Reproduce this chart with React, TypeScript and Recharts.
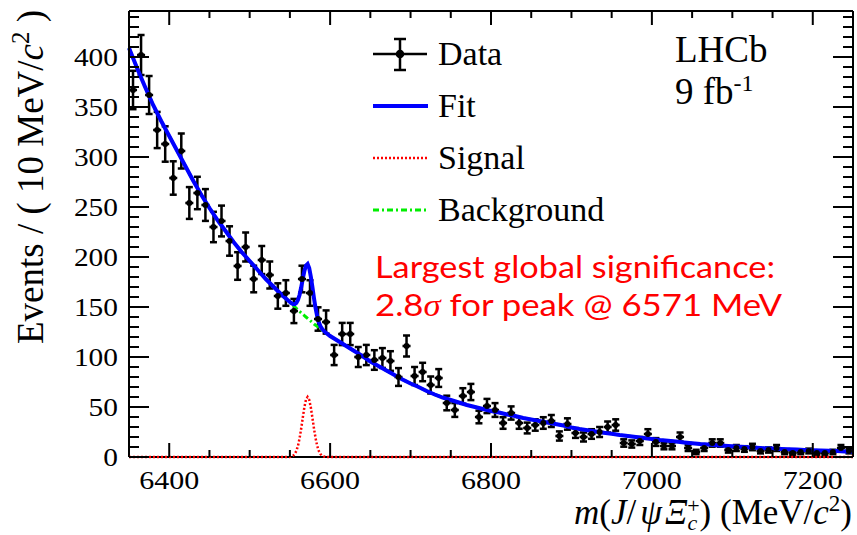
import React from 'react';
import { ComposedChart, Line, Scatter, ErrorBar, XAxis, YAxis, Legend, Customized } from 'recharts';

// ---- data points (10 MeV bins) ----
const binCenters = [
  6355, 6365, 6375, 6385, 6395, 6405, 6415, 6425, 6435, 6445,
  6455, 6465, 6475, 6485, 6495, 6505, 6515, 6525, 6535, 6545,
  6555, 6565, 6575, 6585, 6595, 6605, 6615, 6625, 6635, 6645,
  6655, 6665, 6675, 6685, 6695, 6705, 6715, 6725, 6735, 6745,
  6755, 6765, 6775, 6785, 6795, 6805, 6815, 6825, 6835, 6845,
  6855, 6865, 6875, 6885, 6895, 6905, 6915, 6925, 6935, 6945,
  6955, 6965, 6975, 6985, 6995, 7005, 7015, 7025, 7035, 7045,
  7055, 7065, 7075, 7085, 7095, 7105, 7115, 7125, 7135, 7145,
  7155, 7165, 7175, 7185, 7195, 7205, 7215, 7225, 7235, 7245,
];
const counts = [
  367, 402, 362, 327, 313, 279, 306, 254, 264, 252,
  230, 236, 216, 191, 210, 178, 197, 182, 161, 164,
  146, 178, 164, 138, 135, 102, 123, 123, 100, 102,
  97, 99, 96, 80, 111, 81, 85, 72, 79, 54,
  47, 61, 65, 40, 51, 47, 34, 44, 34, 29,
  32, 34, 36, 21, 33, 24, 20, 23, 25, 30,
  32, 14, 13, 16, 23, 15, 11, 11, 20, 9,
  5, 9, 14, 14, 7, 9, 8, 10, 6, 7,
  9, 5, 4, 5, 6, 4, 4, 5, 9, 6,
];
const countErrors = [
  19.2, 20, 19, 18.1, 17.7, 16.7, 17.5, 15.9, 16.2, 15.9,
  15.2, 15.4, 14.7, 13.8, 14.5, 13.3, 14, 13.5, 12.7, 12.8,
  12.1, 13.3, 12.8, 11.7, 11.6, 10.1, 11.1, 11.1, 10, 10.1,
  9.8, 9.9, 9.8, 8.9, 10.5, 9, 9.2, 8.5, 8.9, 7.3,
  6.9, 7.8, 8.1, 6.3, 7.1, 6.9, 5.8, 6.6, 5.8, 5.4,
  5.7, 5.8, 6, 4.6, 5.7, 4.9, 4.5, 4.8, 5, 5.5,
  5.7, 3.7, 3.6, 4, 4.8, 3.9, 3.3, 3.3, 4.5, 3,
  2.2, 3, 3.7, 3.7, 2.6, 3, 2.8, 3.2, 2.4, 2.6,
  3, 2.2, 2, 2.2, 2.4, 2, 2, 2.2, 3, 2.4,
];
const binHalfWidth = 5;

// ---- fit curves ----
const curveMass = [
  6350, 6360, 6370, 6380, 6390, 6400, 6410, 6420, 6430, 6440,
  6450, 6460, 6470, 6480, 6490, 6500, 6510, 6520, 6530, 6540, 6550,
  6552, 6554, 6556, 6558, 6560, 6562, 6564, 6566, 6568, 6570, 6572,
  6574, 6576, 6578, 6580, 6582, 6584, 6586, 6588, 6590, 6592, 6594,
  6600, 6610, 6620, 6630, 6640, 6650, 6660, 6670, 6680, 6690,
  6700, 6710, 6720, 6730, 6740, 6750, 6760, 6770, 6780, 6790,
  6800, 6810, 6820, 6830, 6840, 6850, 6860, 6870, 6880, 6890,
  6900, 6910, 6920, 6930, 6940, 6950, 6960, 6970, 6980, 6990,
  7000, 7010, 7020, 7030, 7040, 7050, 7060, 7070, 7080, 7090,
  7100, 7110, 7120, 7130, 7140, 7150, 7160, 7170, 7180, 7190,
  7200, 7210, 7220, 7230, 7240, 7250,
];
const bkgCurve = [
  409, 389, 370, 352, 336, 321, 306, 291, 276, 262,
  249, 237, 226, 215, 205, 196, 187, 178, 170, 162, 155,
  153.4, 151.8, 150.2, 148.6, 147, 145.6, 144.2, 142.8, 141.4, 140, 138.6,
  137.2, 135.8, 134.4, 133, 131.8, 130.6, 129.4, 128.2, 127, 125.8, 124.6,
  121, 116, 111, 106, 101, 95.5, 91, 86.5, 82, 77.5,
  73.5, 70, 66, 62.5, 59.5, 57, 54.5, 52, 50, 48,
  46, 44.5, 42.5, 41, 39, 37.5, 36, 34.5, 33, 31.5,
  29.5, 28, 26.8, 25.5, 24.3, 23.2, 22, 21, 20, 19,
  18, 17, 16.2, 15.4, 14.6, 13.8, 13, 12.4, 11.8, 11.2,
  10.7, 10.2, 9.7, 9.2, 8.8, 8.4, 8, 7.7, 7.4, 7.1,
  6.8, 6.5, 6.2, 5.9, 5.6, 5.3,
];
const fitCurve = [
  409, 389, 370, 352, 336, 321, 306, 291, 276, 262,
  249, 237, 226, 215, 205, 196, 187, 178, 170, 162, 155,
  153.8, 153, 152.8, 154, 157, 162, 169.5, 178, 186, 191.5, 193,
  189, 180.5, 170, 158.5, 148.5, 140.5, 134.8, 130.8, 128.2, 126.3, 124.8,
  121, 116, 111, 106, 101, 95.5, 91, 86.5, 82, 77.5,
  73.5, 70, 66, 62.5, 59.5, 57, 54.5, 52, 50, 48,
  46, 44.5, 42.5, 41, 39, 37.5, 36, 34.5, 33, 31.5,
  29.5, 28, 26.8, 25.5, 24.3, 23.2, 22, 21, 20, 19,
  18, 17, 16.2, 15.4, 14.6, 13.8, 13, 12.4, 11.8, 11.2,
  10.7, 10.2, 9.7, 9.2, 8.8, 8.4, 8, 7.7, 7.4, 7.1,
  6.8, 6.5, 6.2, 5.9, 5.6, 5.3,
];
const sigCurve = [
  0, 0, 0, 0, 0, 0, 0, 0, 0, 0,
  0, 0, 0, 0, 0, 0, 0, 0, 0, 0, 0,
  0.5, 1.3, 2.9, 6, 11, 18.5, 28.2, 39.2, 49.7, 57.3, 60,
  57.3, 49.7, 39.2, 28.2, 18.5, 11, 6, 2.9, 1.3, 0.5, 0.2,
  0, 0, 0, 0, 0, 0, 0, 0, 0, 0,
  0, 0, 0, 0, 0, 0, 0, 0, 0, 0,
  0, 0, 0, 0, 0, 0, 0, 0, 0, 0,
  0, 0, 0, 0, 0, 0, 0, 0, 0, 0,
  0, 0, 0, 0, 0, 0, 0, 0, 0, 0,
  0, 0, 0, 0, 0, 0, 0, 0, 0, 0,
  0, 0, 0, 0, 0, 0,
];

// ---- ticks ----
const xTicks = [6400, 6450, 6500, 6550, 6600, 6650, 6700, 6750, 6800, 6850, 6900, 6950, 7000, 7050, 7100, 7150, 7200];
const xLabelTicks = [6400, 6600, 6800, 7000, 7200];
const yTicks = [
  0, 10, 20, 30, 40, 50, 60, 70, 80, 90, 100, 110, 120, 130, 140, 150, 160, 170, 180, 190,
  200, 210, 220, 230, 240, 250, 260, 270, 280, 290, 300, 310, 320, 330, 340, 350, 360, 370,
  380, 390, 400, 410, 420, 430, 440,
];
const yLabelTicks = [0, 50, 100, 150, 200, 250, 300, 350, 400];
const legendNames = ['Data', 'Fit', 'Signal', 'Background'];

const dataPoints = binCenters.map((m, i) => ({ x: m, y: counts[i], ex: binHalfWidth, ey: countErrors[i] }));
const curveRows = curveMass.map((m, i) => ({ x: m, fit: fitCurve[i], bkg: bkgCurve[i], sig: sigCurve[i] }));

const SERIF = "'Liberation Serif', 'Times New Roman', serif";
const BLUE = '#0000ff';
const RED = '#ff0000';
const GREEN = '#00ee00';

function BottomTick(props: any) {
  const { x, y, payload } = props;
  const v = payload.value;
  const major = xLabelTicks.includes(v);
  return (
    <g>
      <line x1={x} x2={x} y1={y} y2={y - (major ? 14 : 7)} stroke="#000" strokeWidth={2} />
      {major && (
        <text x={x} y={y + 32} textAnchor="middle" fontFamily={SERIF} fontSize={25} fill="#000"
          textLength={60} lengthAdjust="spacingAndGlyphs">{String(v)}</text>
      )}
    </g>
  );
}
function TopTick(props: any) {
  const { x, y, payload } = props;
  const major = xLabelTicks.includes(payload.value);
  return <line x1={x} x2={x} y1={y} y2={y + (major ? 14 : 7)} stroke="#000" strokeWidth={2} />;
}
function LeftTick(props: any) {
  const { x, y, payload } = props;
  const v = payload.value;
  const major = yLabelTicks.includes(v);
  const s = String(v);
  return (
    <g>
      <line x1={x} x2={x + (major ? 20 : 10)} y1={y} y2={y} stroke="#000" strokeWidth={2} />
      {major && (
        <text x={x - 11} y={y + 9} textAnchor="end" fontFamily={SERIF} fontSize={25} fill="#000"
          textLength={s.length * 14.7} lengthAdjust="spacingAndGlyphs">{s}</text>
      )}
    </g>
  );
}
function RightTick(props: any) {
  const { x, y, payload } = props;
  const major = yLabelTicks.includes(payload.value);
  return <line x1={x} x2={x - (major ? 20 : 10)} y1={y} y2={y} stroke="#000" strokeWidth={2} />;
}

function LegendBox() {
  const rowY = [54, 106, 158, 210];
  return (
    <svg width={857} height={240} style={{ position: 'absolute', left: 0, top: 0, overflow: 'visible' }}>
      {legendNames.map((name, i) => {
        const cy = rowY[i];
        let sym: any = null;
        if (name === 'Data') {
          sym = (
            <g stroke="#000" strokeWidth={2.5}>
              <line x1={373} x2={427} y1={cy} y2={cy} />
              <line x1={400} x2={400} y1={cy - 15} y2={cy + 16} />
              <line x1={394} x2={406} y1={cy - 15} y2={cy - 15} />
              <line x1={394} x2={406} y1={cy + 16} y2={cy + 16} />
              <circle cx={400} cy={cy} r={3} fill="#000" />
            </g>
          );
        } else if (name === 'Fit') {
          sym = <line x1={373} x2={428} y1={cy} y2={cy} stroke={BLUE} strokeWidth={4} />;
        } else if (name === 'Signal') {
          sym = <line x1={373} x2={428} y1={cy} y2={cy} stroke={RED} strokeWidth={2.5} strokeDasharray="2 2" />;
        } else {
          sym = <line x1={373} x2={428} y1={cy} y2={cy} stroke={GREEN} strokeWidth={3} strokeDasharray="6 3 2 3" />;
        }
        return (
          <g key={name}>
            {sym}
            <text x={438} y={cy + 11} fontFamily={SERIF} fontSize={34} fill="#000">{name}</text>
          </g>
        );
      })}
    </svg>
  );
}

function Annotations() {
  return (
    <g>
      {/* y-axis title */}
      <text x={43} y={177} transform="rotate(-90, 43, 177)" textAnchor="middle" fontFamily={SERIF} fontSize={37} fill="#000">
        {'Events / ( 10 MeV/'}
        <tspan fontStyle="italic">c</tspan>
        <tspan fontSize={25} dy={-14}>2</tspan>
        <tspan dy={14}>{' )'}</tspan>
      </text>
      {/* x-axis title */}
      <text x={852} y={524} textAnchor="end" fontFamily={SERIF} fontSize={35} fill="#000">
        <tspan fontStyle="italic">m</tspan>
        <tspan>(</tspan>
        <tspan fontStyle="italic">J</tspan>
        <tspan>/</tspan>
        <tspan fontStyle="italic" dx={4}>ψ</tspan>
        <tspan fontStyle="italic" dx={3}>Ξ</tspan>
        <tspan fontStyle="italic" fontSize={22} dy={6}>c</tspan>
        <tspan fontSize={22} dx={-10} dy={-17}>+</tspan>
        <tspan dy={11}>)</tspan>
        <tspan>{' (MeV/'}</tspan>
        <tspan fontStyle="italic">c</tspan>
        <tspan fontSize={23} dy={-13}>2</tspan>
        <tspan dy={13}>)</tspan>
      </text>
      {/* LHCb label */}
      <text x={675} y={62} fontFamily={SERIF} fontSize={37} fill="#000">LHCb</text>
      <text x={675} y={104} fontFamily={SERIF} fontSize={37} fill="#000">
        {'9 fb'}
        <tspan fontSize={24} dy={-13}>-1</tspan>
      </text>
      {/* red annotation */}
      <text x={375} y={278} fontFamily="Lato, 'Open Sans', sans-serif" fontSize={31} fill={RED}
        textLength={400} lengthAdjust="spacingAndGlyphs">Largest global significance:</text>
      <text x={375} y={316} fontFamily="Lato, 'Open Sans', sans-serif" fontSize={31} fill={RED}
        textLength={407} lengthAdjust="spacingAndGlyphs">
        {'2.8'}
        <tspan fontStyle="italic" fontFamily={SERIF}>σ</tspan>
        {' for peak @ 6571 MeV'}
      </text>
    </g>
  );
}

export default function App() {
  const lineExtra: any = { zIndex: 700 };
  return (
    <div style={{ position: 'absolute', left: 0, top: 0, width: 857, height: 535, background: '#fff' }}>
      <ComposedChart width={857} height={535} data={curveRows} margin={{ top: 10, right: 0, bottom: 0, left: 0 }}>
        <XAxis dataKey="x" type="number" domain={[6350, 7250]} ticks={xTicks} interval={0}
          height={78} tickSize={0} tickMargin={0} tickLine={false} tick={<BottomTick />}
          axisLine={{ stroke: '#000', strokeWidth: 2 }} />
        <XAxis xAxisId="top" orientation="top" dataKey="x" type="number" domain={[6350, 7250]} allowDataOverflow
          ticks={xTicks} interval={0} height={1} tickSize={0} tickMargin={0} tickLine={false} tick={<TopTick />}
          axisLine={{ stroke: '#000', strokeWidth: 2 }} />
        <YAxis type="number" domain={[0, 446]} ticks={yTicks} interval={0} width={129}
          tickSize={0} tickMargin={0} tickLine={false} tick={<LeftTick />} axisLine={{ stroke: '#000', strokeWidth: 2 }} />
        <YAxis yAxisId="right" orientation="right" type="number" domain={[0, 446]} allowDataOverflow ticks={yTicks}
          interval={0} width={4} tickSize={0} tickMargin={0} tickLine={false} tick={<RightTick />}
          axisLine={{ stroke: '#000', strokeWidth: 2 }} />
        <Scatter name="Data" data={dataPoints} dataKey="y" isAnimationActive={false}
          shape={(p: any) => <circle cx={p.cx} cy={p.cy} r={3} fill="#000" />}>
          <ErrorBar dataKey="ey" direction="y" width={3.5} stroke="#000" strokeWidth={2.5} />
          <ErrorBar dataKey="ex" direction="x" width={0} stroke="#000" strokeWidth={2.5} />
        </Scatter>
        <Line name="Background" dataKey="bkg" type="linear" stroke={GREEN} strokeWidth={3} strokeDasharray="6 3 2 3"
          dot={false} activeDot={false} isAnimationActive={false} />
        <Line name="Fit" dataKey="fit" type="linear" stroke={BLUE} strokeWidth={4} dot={false} activeDot={false}
          isAnimationActive={false} />
        <Line name="Signal" dataKey="sig" type="linear" stroke={RED} strokeWidth={2.5} strokeDasharray="2 2" dot={false}
          activeDot={false} isAnimationActive={false} {...lineExtra} />
        <Legend content={() => <LegendBox />} layout="horizontal" verticalAlign="middle" align="center"
          wrapperStyle={{ position: 'absolute', left: 0, top: 0, width: 857, height: 240 }} />
        <Customized component={() => <Annotations />} />
      </ComposedChart>
    </div>
  );
}
